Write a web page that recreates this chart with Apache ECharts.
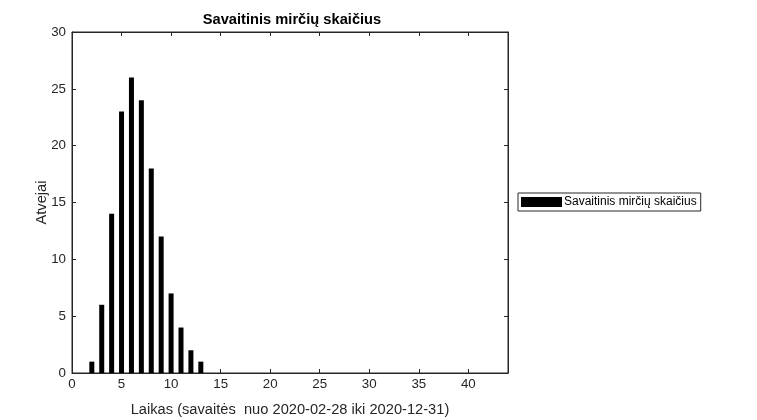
<!DOCTYPE html>
<html>
<head>
<meta charset="utf-8">
<script src="https://cdn.jsdelivr.net/npm/echarts@6/dist/echarts.min.js"></script>
<style>
html,body{margin:0;padding:0;background:#fff;}
#chart{width:757px;height:420px;}
</style>
</head>
<body>
<div id="chart"></div>
<script>
// Week numbers and weekly death counts
var weeks = [1,2,3,4,5,6,7,8,9,10,11,12,13,14,15,16,17,18,19,20,21,22,23,24,25,26,27,28,29,30,31,32,33,34,35,36,37,38,39,40,41,42,43,44];
var deaths = [0,1,6,14,23,26,24,18,12,7,4,2,1,0,0,0,0,0,0,0,0,0,0,0,0,0,0,0,0,0,0,0,0,0,0,0,0,0,0,0,0,0,0,0];
var titleText = 'Savaitinis mirčių skaičius';
var xLabel = 'Laikas (savaitės  nuo 2020-02-28 iki 2020-12-31)';
var yLabel = 'Atvejai';
var seriesName = 'Savaitinis mirčių skaičius';

var pairs = weeks.map(function(w, i){ return [w, deaths[i]]; });
var FONT = '"Liberation Sans", Arial, Helvetica, sans-serif';
var chart = echarts.init(document.getElementById('chart'), null, {renderer:'canvas'});
function tick(){ return {show:true, inside:true, length:4, lineStyle:{color:'#262626', width:1}}; }
function aline(){ return {show:true, onZero:false, lineStyle:{color:'#262626', width:1}}; }
chart.setOption({
  animation:false,
  backgroundColor:'#fff',
  textStyle:{fontFamily:FONT},
  title:{
    text:titleText, left:287, top:7, textAlign:'center',
    textStyle:{fontFamily:FONT, fontSize:14.67, fontWeight:'bold', color:'#000'}
  },
  legend:{
    data:[{name:seriesName, icon:'rect'}],
    left:518, top:193, orient:'vertical',
    padding:[3,4,3,3], itemGap:2,
    itemWidth:41, itemHeight:10,
    borderColor:'#262626', borderWidth:1, backgroundColor:'#fff',
    textStyle:{fontFamily:FONT, fontSize:12, color:'#000', padding:[0,0,0,-3]}
  },
  grid:{left:72, right:249, top:32, bottom:47, containLabel:false, outerBoundsMode:'none',
        show:true, borderColor:'#262626', borderWidth:1, backgroundColor:'transparent'},
  xAxis:[{
    type:'value', min:0, max:44, interval:5, position:'bottom',
    name:xLabel, nameLocation:'middle', nameGap:29, nameMoveOverlap:false,
    nameTextStyle:{fontFamily:FONT, fontSize:14.67, color:'#262626'},
    axisLine:aline(), axisTick:tick(), splitLine:{show:false},
    axisLabel:{fontFamily:FONT, fontSize:13.33, color:'#262626', margin:5,
      formatter:function(v){ return v % 5 === 0 ? String(v) : ''; }}
  },{
    type:'value', min:0, max:44, interval:5, position:'top',
    axisLine:aline(), axisTick:tick(), splitLine:{show:false},
    axisLabel:{show:false}
  }],
  yAxis:[{
    type:'value', min:0, max:30, interval:5, position:'left',
    name:yLabel, nameLocation:'middle', nameGap:23, nameRotate:90, nameMoveOverlap:false,
    nameTextStyle:{fontFamily:FONT, fontSize:14.67, color:'#262626'},
    axisLine:aline(), axisTick:tick(), splitLine:{show:false},
    axisLabel:{fontFamily:FONT, fontSize:13.33, color:'#262626', margin:6}
  },{
    type:'value', min:0, max:30, interval:5, position:'right',
    axisLine:aline(), axisTick:tick(), splitLine:{show:false},
    axisLabel:{show:false}
  }],
  series:[{
    name:seriesName, type:'bar', data:pairs,
    xAxisIndex:0, yAxisIndex:0,
    barWidth:5,
    itemStyle:{color:'#000'}
  }]
});
</script>
</body>
</html>
